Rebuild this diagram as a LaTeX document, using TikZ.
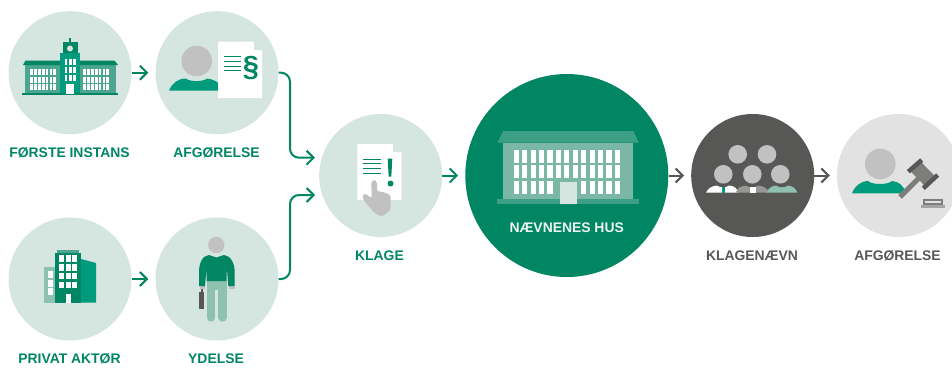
\documentclass[tikz,border=0pt]{standalone}
\usepackage{fontspec}
\setmainfont{Liberation Sans}
\usetikzlibrary{arrows.meta}
\definecolor{palegreen}{HTML}{D5E5DF}
\definecolor{deepgreen}{HTML}{008663}
\definecolor{tealgreen}{HTML}{009B7D}
\definecolor{midgreen}{HTML}{4CA68F}
\definecolor{softgreen}{HTML}{8FC1B1}
\definecolor{headgrey}{HTML}{C1C1C1}
\definecolor{darkgrey}{HTML}{575756}
\definecolor{midgrey}{HTML}{7D7D7B}
\definecolor{palegrey}{HTML}{E2E2E2}
\tikzset{
  circnode/.style={circle,minimum size=123pt,inner sep=0pt,fill=palegreen},
  flow/.style={line width=2pt,deepgreen,-{Straight Barb[length=7pt,width=14pt,line width=2pt]},shorten >=7pt},
  greyflow/.style={flow,draw=darkgrey},
  caption/.style={font=\bfseries\fontsize{13.9}{16}\selectfont,text=deepgreen,inner sep=0pt},
  greycaption/.style={caption,text=darkgrey}
}
\begin{document}
\begin{tikzpicture}[x=1pt,y=-1pt]
  \clip (0,0) rectangle (952,367);

  % Marking the circles
  \node [circnode] (forste) at (70,72.7) {};
  \node [circnode] (afgoerelse) at (217,72.7) {};
  \node [circnode] (privat) at (70,279) {};
  \node [circnode] (ydelse) at (217,279) {};
  \node [circnode] (klage) at (380.7,175.5) {};
  \node [circnode,minimum size=203pt,fill=deepgreen] (naevnene) at (566.8,175.5) {};
  \node [circnode,fill=darkgrey] (klagenaevn) at (752.7,175.5) {};
  \node [circnode,fill=palegrey] (afgoerelseb) at (898.5,175.5) {};

  % Marking the captions
  \node [caption] (forstetext) at (69.5,153) {FØRSTE INSTANS};
  \node [caption] (afgoerelsetext) at (216.5,153) {AFGØRELSE};
  \node [caption] (privattext) at (69.5,359) {PRIVAT AKTØR};
  \node [caption] (ydelsetext) at (216,359) {YDELSE};
  \node [caption] (klagetext) at (379.5,256) {KLAGE};
  \node [caption,text=palegreen!40!white] (naevnenetext) at (566.7,228) {NÆVNENES HUS};
  \node [greycaption] (klagenaevntext) at (752,256) {KLAGENÆVN};
  \node [greycaption] (afgoerelsebtext) at (897.5,256) {AFGØRELSE};

  % Drawing the connectors
  \coordinate (elbowtop) at (290,115);
  \coordinate (elbowbottom) at (290,237);
  \coordinate (klagetop) at (322,157.7);
  \coordinate (klagebottom) at (322,195);
  \draw [flow] (forste) -- (afgoerelse);
  \draw [flow] (privat) -- (ydelse);
  \draw [flow,rounded corners=9pt] (afgoerelse.east) -| (elbowtop) |- (klagetop);
  \draw [flow,rounded corners=9pt] (ydelse.east) -| (elbowbottom) |- (klagebottom);
  \draw [flow] (klage) -- (naevnene);
  \draw [greyflow] (naevnene) -- (klagenaevn);
  \draw [greyflow] (klagenaevn) -- (afgoerelseb);

  % Drawing the first building
  \fill [midgreen] (25,65) rectangle (115.7,93);
  \fill [deepgreen] (23,65) -- (25.5,60.5) -- (114.5,60.5) -- (118,65) -- cycle;
  \fill [tealgreen] (60,52.7) rectangle (80,95);
  \fill [deepgreen] (63,42) rectangle (77.7,53);
  \fill [deepgreen] (69.3,38) rectangle (70.7,42);
  \fill [palegreen] (70,48.5) circle (3);
  \fill [deepgreen] (22,93) rectangle (118,95);
  \fill [white] (66,84) rectangle (74,94);
  \foreach \x in {65,69.1,73.2}
    \foreach \y in {59,67,74.5}
      \fill [white] (\x,\y) rectangle ++(2.4,6);
  \foreach \x in {30,33.9,37.8,41.7,45.6,49.5,53.4,83,86.9,90.8,94.7,98.6,102.5,106.4}
    \foreach \y in {69,77,84}
      \fill [white] (\x,\y) rectangle ++(2.8,6);

  % Drawing the first person and the paper
  \fill [headgrey] (196.7,61) circle (15.3);
  \fill [tealgreen] (169,90.7) .. controls (172,83) and (178,78.5) .. (186,78.5)
    .. controls (190,82) and (203,82) .. (207,78.5)
    .. controls (212,79) and (216,81) .. (220,84) -- (220,90.7) -- cycle;
  \fill [white] (218,41.5) -- (254,41.5) -- (262,50) -- (262,98) -- (218,98) -- cycle;
  \fill [palegreen] (254,41.5) -- (254,50) -- (262,50) -- cycle;
  \foreach \y in {56.5,61,66,70.5}
    \draw [line width=1pt,deepgreen] (224,\y) -- (241,\y);
  \node [inner sep=0pt,text=deepgreen,font=\bfseries\fontsize{29}{30}\selectfont] (paragraph) at (251,68) {§};

  % Drawing the office buildings
  \fill [softgreen] (44,267) rectangle (55,302.7);
  \foreach \y in {271,280,288}
    \fill [white] (48,\y) rectangle ++(5,6.5);
  \fill [deepgreen] (55,252.7) rectangle (81,302.7);
  \fill [midgreen] (57,250) rectangle (79,252.7);
  \fill [tealgreen] (81,259) -- (96,263) -- (96,302.7) -- (81,302.7) -- cycle;
  \foreach \x in {59,66,72}
    \foreach \y in {255,264,272.7,281.7}
      \fill [white] (\x,\y) rectangle ++(5,6.5);
  \fill [white] (66,294) rectangle (71,302.7);

  % Drawing the man with the briefcase
  \fill [headgrey] (216.3,245) circle (8.2);
  \fill [softgreen] (206.7,281) rectangle (226.7,290);
  \draw [softgreen,line width=8.4pt,line cap=round] (210.9,285) -- (210.9,317.5);
  \draw [softgreen,line width=8.4pt,line cap=round] (222.5,285) -- (222.5,317.5);
  \fill [headgrey] (199.5,285) rectangle (204.5,288.5);
  \fill [headgrey] (229,285) rectangle (234.5,288.5);
  \fill [deepgreen] (209,255) -- (216.3,257.5) -- (224,255)
    .. controls (231,255.5) and (234.7,264) .. (234.7,272) -- (234.7,286) -- (228.3,286)
    -- (227.2,272) -- (226.7,272) -- (226.7,281) -- (206.7,281) -- (206.7,272) -- (206.2,272)
    -- (205,286) -- (199,286) -- (199,272) .. controls (199,264) and (202,255.5) .. (209,255) -- cycle;
  \fill [darkgrey] (199,291.7) rectangle (204,309);
  \fill [darkgrey] (200.5,289) rectangle (202.5,291.7);

  % Drawing the paper with the hand
  \fill [white] (357.3,144) -- (393,144) -- (401.7,152) -- (401.7,200) -- (357.3,200) -- cycle;
  \fill [palegreen] (393,144) -- (393,152) -- (401.7,152) -- cycle;
  \foreach \y in {159,163.7,168,173}
    \draw [line width=1pt,deepgreen] (363,\y) -- (381,\y);
  \fill [deepgreen] (387.7,158.7) -- (392.3,158.7) -- (391.3,176.7) -- (388.7,176.7) -- cycle;
  \fill [deepgreen] (390.5,183.5) circle (3);
  \fill [headgrey,rounded corners=2pt] (374,179.3) -- (377,181.5) -- (377,191.5) -- (381.5,191.5)
    -- (390.7,195) -- (390.7,210) -- (381.7,216.7) -- (375,213.5) -- (363.3,200) -- (362.3,195)
    -- (365,193.3) -- (371.7,198.3) -- (371.3,181.5) -- cycle;

  % Drawing the big building
  \fill [softgreen!85!deepgreen] (503,142.7) rectangle (633,200);
  \fill [midgreen!80!deepgreen] (497.3,142.7) -- (503.3,131) -- (633.3,131) -- (638.7,142.7) -- cycle;
  \fill [midgreen!80!deepgreen] (497,199) rectangle (639,204);
  \foreach \x in {0,...,12}
    \foreach \y in {150,165}
      \fill [white] ({513.7+8.43*\x},\y) rectangle ++(5.2,13.2);
  \foreach \x in {0,1,2,3,4,8,9,10,11,12}
    \fill [white] ({513.7+8.43*\x},181) rectangle ++(5.2,13);
  \fill [palegreen] (560,182) rectangle (577,204);

  % Drawing the panel
  \foreach \x/\y in {737.7/154.3,767/154.3,723.3/174.3,752.3/174.3,780.3/174.3}
    \fill [headgrey] (\x,\y) circle (9.3);
  \fill [white] (706,192.7) .. controls (708,188) and (712,186) .. (717,185.5)
    .. controls (720,188) and (726,188) .. (729,185.5)
    .. controls (734,186) and (737,188) .. (738.5,192.7) -- cycle;
  \fill [tealgreen] (722,186.5) rectangle (725,192.7);
  \fill [midgrey!80!white] (735.7,192.7) .. controls (737,188) and (741,186) .. (746,185.5)
    .. controls (749,188) and (755,188) .. (758,185.5)
    .. controls (763,186) and (767,188) .. (769.3,192.7) -- cycle;
  \fill [white] (750,187) rectangle (756,192.7);
  \fill [softgreen] (766.7,192.7) .. controls (768,188) and (772,186) .. (776,185.5)
    .. controls (779,188) and (785,188) .. (788,185.5)
    .. controls (792,186) and (796,188) .. (797.3,192.7) -- cycle;

  % Drawing the judge and the gavel
  \fill [headgrey] (880.3,164) circle (15.3);
  \fill [tealgreen] (852,193.3) .. controls (855,186) and (860,181.5) .. (868,181)
    .. controls (872,185) and (888,185) .. (892,181)
    .. controls (899,181.5) and (904,186) .. (906,193.3) -- cycle;
  \draw [midgrey,line width=5pt] (900,197) -- (922,175);
  \draw [midgrey,line width=14pt] (915,165.8) -- (930.5,181.7);
  \draw [darkgrey,line width=4.5pt] (908.3,171.7) -- (921.7,160);
  \draw [darkgrey,line width=4.5pt] (923.3,188.3) -- (937.7,175);
  \fill [midgrey] (923.3,199.3) rectangle (942.7,205);
  \fill [midgrey!70!white] (921,205) rectangle (945,207.5);
  \fill [palegrey] (925,201.3) rectangle (941,202.5);
\end{tikzpicture}
\end{document}
